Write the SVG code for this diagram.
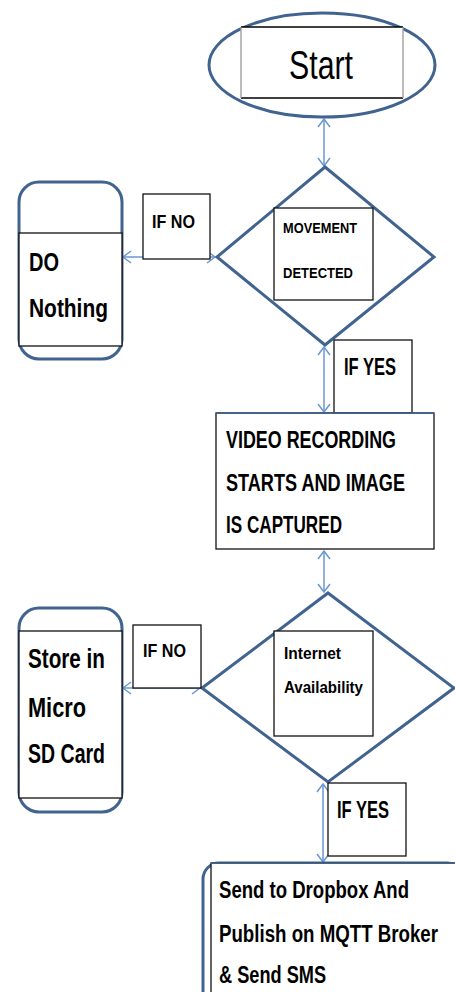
<svg xmlns="http://www.w3.org/2000/svg" width="455" height="992" viewBox="0 0 455 992">
<style>
.shape{fill:none;stroke:#41638f;stroke-width:3}
.box{fill:#fff;stroke:#111;stroke-width:1.3}
.conn{stroke:#6b97cf;stroke-width:1.5;fill:none}
.t{font-family:"Liberation Sans Narrow","Liberation Sans",Arial,sans-serif;font-weight:bold;fill:#000}
</style>
<defs>
<marker id="ah" markerUnits="userSpaceOnUse" markerWidth="12" markerHeight="14" viewBox="0 0 12 14" refX="10" refY="7" orient="auto-start-reverse">
<path d="M2,1 L10,7 L2,13" fill="none" stroke="#6b97cf" stroke-width="1.5"/>
</marker>
</defs>
<rect width="455" height="992" fill="#fff"/>

<g id="connectors">
<line class="conn" x1="324" y1="119" x2="324" y2="166" marker-start="url(#ah)" marker-end="url(#ah)"/>
<line class="conn" x1="215" y1="257" x2="123" y2="257" marker-start="url(#ah)" marker-end="url(#ah)"/>
<line class="conn" x1="324" y1="347" x2="324" y2="412" marker-start="url(#ah)" marker-end="url(#ah)"/>
<line class="conn" x1="324" y1="551" x2="324" y2="592" marker-start="url(#ah)" marker-end="url(#ah)"/>
<line class="conn" x1="200" y1="688" x2="123" y2="688" marker-start="url(#ah)" marker-end="url(#ah)"/>
<line class="conn" x1="323" y1="784" x2="323" y2="862" marker-start="url(#ah)" marker-end="url(#ah)"/>
</g>

<g id="start">
<ellipse class="shape" cx="322" cy="65" rx="113" ry="52"/>
<rect x="241" y="27" width="162" height="71" fill="#fff" stroke="none"/>
<line x1="241" y1="27" x2="403" y2="27" stroke="#000" stroke-width="1.3"/>
<line x1="241" y1="98" x2="403" y2="98" stroke="#000" stroke-width="1.3"/>
<line x1="241" y1="27" x2="241" y2="98" stroke="#999" stroke-width="1.3"/>
<line x1="403" y1="27" x2="403" y2="98" stroke="#999" stroke-width="1.3"/>
<text x="321" y="79" text-anchor="middle" font-family="'Liberation Sans Narrow','Liberation Sans',Arial,sans-serif" font-size="40" textLength="64" lengthAdjust="spacingAndGlyphs">Start</text>
</g>

<g id="movement">
<polygon class="shape" points="325,167 434,257 325,345 217,257" fill="#fff"/>
<rect class="box" x="274" y="208" width="99" height="92"/>
<text class="t" x="283" y="233" font-size="14" textLength="74" lengthAdjust="spacingAndGlyphs">MOVEMENT</text>
<text class="t" x="283" y="278" font-size="14" textLength="70" lengthAdjust="spacingAndGlyphs">DETECTED</text>
</g>

<g id="ifno1">
<rect class="box" x="143" y="194" width="67" height="65"/>
<text class="t" x="152" y="228" font-size="19" textLength="43" lengthAdjust="spacingAndGlyphs">IF NO</text>
</g>

<g id="donothing">
<rect class="shape" x="19" y="182" width="103" height="177" rx="20" fill="#fff"/>
<rect class="box" x="19" y="233" width="103" height="113"/>
<text class="t" x="29" y="271" font-size="25" textLength="30" lengthAdjust="spacingAndGlyphs">DO</text>
<text class="t" x="29" y="317" font-size="25" textLength="79" lengthAdjust="spacingAndGlyphs">Nothing</text>
</g>

<g id="ifyes1">
<rect class="box" x="334" y="340" width="78" height="73"/>
<text class="t" x="344" y="375" font-size="23" textLength="52" lengthAdjust="spacingAndGlyphs">IF YES</text>
</g>

<g id="video">
<rect class="box" x="216" y="413" width="218" height="136"/>
<line x1="216" y1="413" x2="434" y2="413" stroke="#41638f" stroke-width="1.5"/>
<text class="t" x="226" y="448" font-size="24" textLength="170" lengthAdjust="spacingAndGlyphs">VIDEO RECORDING</text>
<text class="t" x="226" y="491" font-size="24" textLength="179" lengthAdjust="spacingAndGlyphs">STARTS AND IMAGE</text>
<text class="t" x="226" y="533" font-size="24" textLength="116" lengthAdjust="spacingAndGlyphs">IS CAPTURED</text>
</g>

<g id="internet">
<polygon class="shape" points="328,593 454,688 328,782 202,688" fill="#fff"/>
<rect class="box" x="274" y="631" width="99" height="105"/>
<text class="t" x="284" y="659" font-size="17" textLength="57" lengthAdjust="spacingAndGlyphs">Internet</text>
<text class="t" x="284" y="693" font-size="17" textLength="79" lengthAdjust="spacingAndGlyphs">Availability</text>
</g>

<g id="ifno2">
<rect class="box" x="133" y="625" width="68" height="63"/>
<text class="t" x="143" y="657" font-size="19" textLength="43" lengthAdjust="spacingAndGlyphs">IF NO</text>
</g>

<g id="store">
<rect class="shape" x="19" y="608" width="103" height="204" rx="20" fill="#fff"/>
<rect class="box" x="19" y="631" width="103" height="167"/>
<text class="t" x="28" y="668" font-size="27" textLength="77" lengthAdjust="spacingAndGlyphs">Store in</text>
<text class="t" x="28" y="717" font-size="27" textLength="58" lengthAdjust="spacingAndGlyphs">Micro</text>
<text class="t" x="28" y="763" font-size="27" textLength="77" lengthAdjust="spacingAndGlyphs">SD Card</text>
</g>

<g id="ifyes2">
<rect class="box" x="328" y="783" width="78" height="73"/>
<text class="t" x="337" y="818" font-size="23" textLength="52" lengthAdjust="spacingAndGlyphs">IF YES</text>
</g>

<g id="send">
<rect class="shape" x="203" y="863" width="260" height="150" rx="16"/>
<rect class="box" x="211" y="863" width="250" height="140"/>
<line x1="211" y1="863" x2="455" y2="863" stroke="#41638f" stroke-width="1.5"/>
<text class="t" x="219" y="898" font-size="23" textLength="190" lengthAdjust="spacingAndGlyphs">Send to Dropbox And</text>
<text class="t" x="219" y="942" font-size="23" textLength="219" lengthAdjust="spacingAndGlyphs">Publish on MQTT Broker</text>
<text class="t" x="219" y="983" font-size="23" textLength="107" lengthAdjust="spacingAndGlyphs">&amp; Send SMS</text>
</g>
</svg>
